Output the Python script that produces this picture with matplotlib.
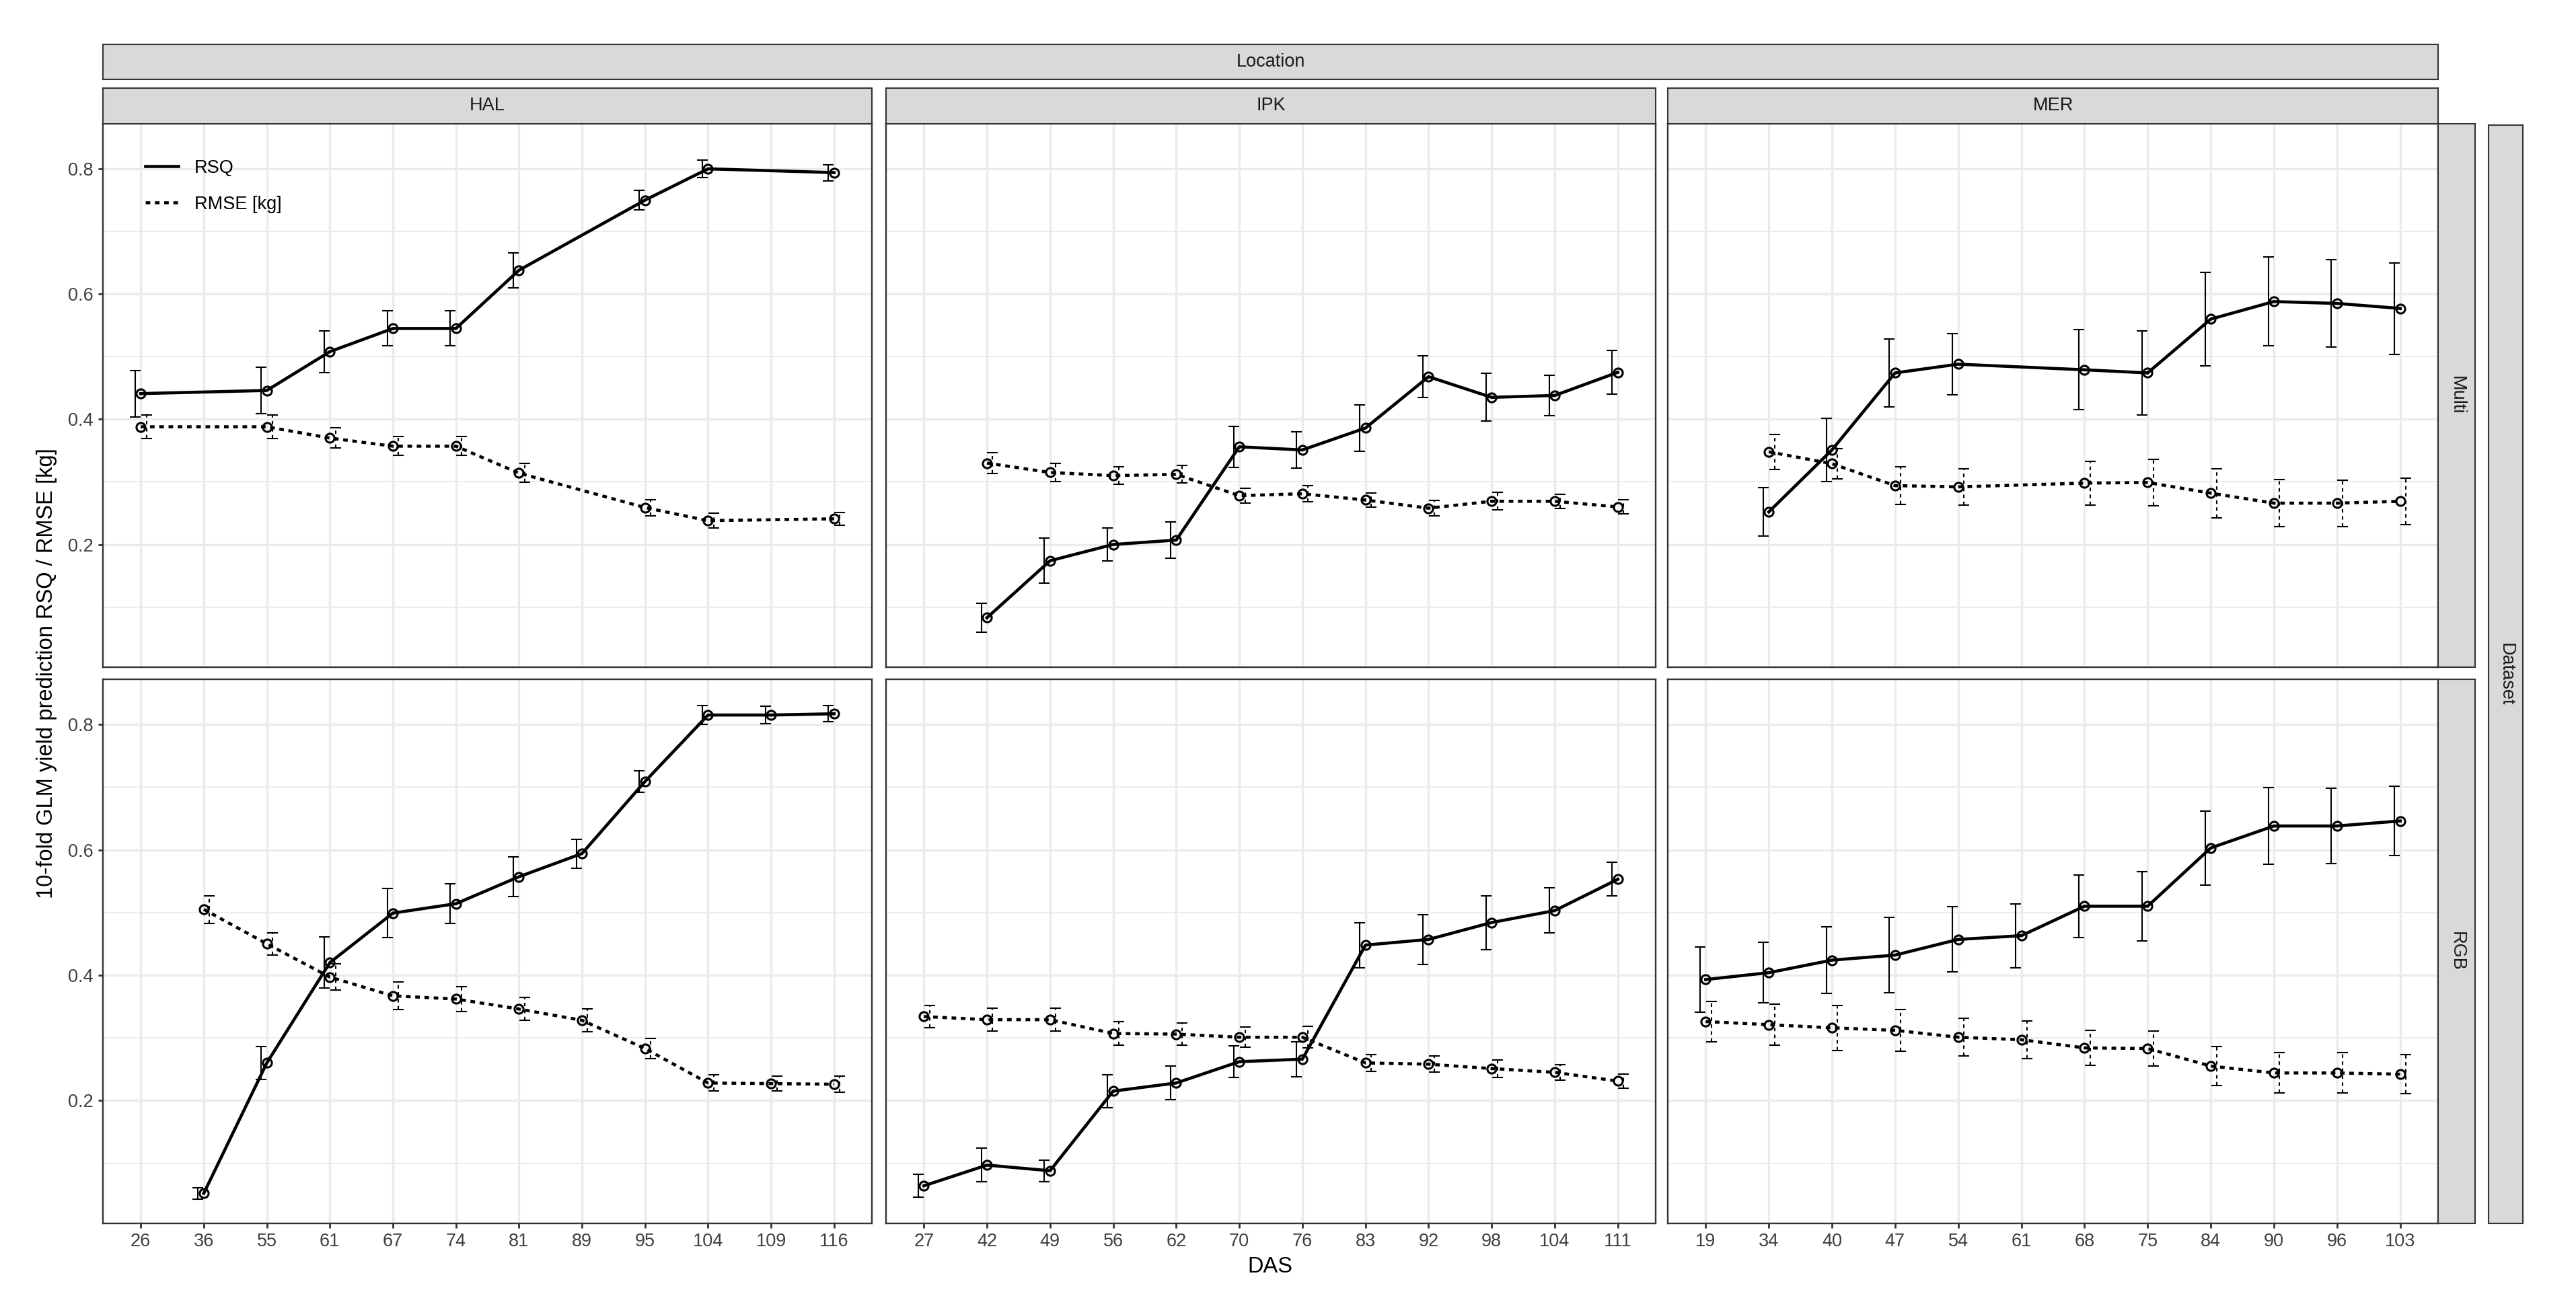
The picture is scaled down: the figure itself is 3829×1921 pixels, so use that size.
# facet grid of 10-fold GLM yield prediction: RSQ / RMSE per DAS, location and dataset

import numpy as np
import matplotlib.pyplot as plt
from matplotlib.lines import Line2D

plt.rcParams['font.family'] = ['Liberation Sans', 'DejaVu Sans']

nan = np.nan

# DAS categories per location (columns)
das_hal = [26, 36, 55, 61, 67, 74, 81, 89, 95, 104, 109, 116]
das_ipk = [27, 42, 49, 56, 62, 70, 76, 83, 92, 98, 104, 111]
das_mer = [19, 34, 40, 47, 54, 61, 68, 75, 84, 90, 96, 103]

# Multi dataset
hal_multi_rsq = [0.441, nan, 0.446, 0.508, 0.545, 0.545, 0.638, nan, 0.750, 0.800, nan, 0.794]
hal_multi_rsq_sd = [0.037, nan, 0.037, 0.033, 0.028, 0.028, 0.028, nan, 0.016, 0.014, nan, 0.013]
hal_multi_rmse = [0.388, nan, 0.388, 0.370, 0.357, 0.357, 0.314, nan, 0.259, 0.238, nan, 0.241]
hal_multi_rmse_sd = [0.019, nan, 0.019, 0.016, 0.015, 0.015, 0.015, nan, 0.013, 0.012, nan, 0.010]

ipk_multi_rsq = [nan, 0.083, 0.174, 0.200, 0.207, 0.356, 0.351, 0.386, 0.468, 0.435, 0.438, 0.475]
ipk_multi_rsq_sd = [nan, 0.023, 0.036, 0.026, 0.029, 0.033, 0.029, 0.037, 0.033, 0.038, 0.032, 0.035]
ipk_multi_rmse = [nan, 0.330, 0.315, 0.310, 0.312, 0.278, 0.281, 0.271, 0.258, 0.269, 0.269, 0.260]
ipk_multi_rmse_sd = [nan, 0.017, 0.015, 0.014, 0.014, 0.012, 0.013, 0.011, 0.012, 0.014, 0.011, 0.011]

mer_multi_rsq = [nan, 0.252, 0.351, 0.474, 0.488, nan, 0.479, 0.474, 0.560, 0.588, 0.585, 0.577]
mer_multi_rsq_sd = [nan, 0.039, 0.051, 0.054, 0.049, nan, 0.064, 0.067, 0.075, 0.071, 0.070, 0.073]
mer_multi_rmse = [nan, 0.348, 0.329, 0.294, 0.292, nan, 0.298, 0.299, 0.282, 0.266, 0.266, 0.269]
mer_multi_rmse_sd = [nan, 0.028, 0.024, 0.030, 0.029, nan, 0.035, 0.037, 0.039, 0.038, 0.037, 0.037]

# RGB dataset
hal_rgb_rsq = [nan, 0.052, 0.260, 0.420, 0.499, 0.514, 0.557, 0.594, 0.709, 0.815, 0.815, 0.817]
hal_rgb_rsq_sd = [nan, 0.009, 0.026, 0.041, 0.039, 0.032, 0.032, 0.023, 0.017, 0.015, 0.014, 0.013]
hal_rgb_rmse = [nan, 0.505, 0.450, 0.397, 0.367, 0.362, 0.346, 0.328, 0.283, 0.228, 0.227, 0.226]
hal_rgb_rmse_sd = [nan, 0.022, 0.018, 0.021, 0.022, 0.020, 0.018, 0.018, 0.016, 0.013, 0.012, 0.013]

ipk_rgb_rsq = [0.064, 0.097, 0.088, 0.215, 0.228, 0.262, 0.266, 0.448, 0.457, 0.484, 0.503, 0.553]
ipk_rgb_rsq_sd = [0.018, 0.027, 0.017, 0.026, 0.027, 0.025, 0.028, 0.036, 0.040, 0.043, 0.036, 0.027]
ipk_rgb_rmse = [0.334, 0.329, 0.329, 0.307, 0.306, 0.301, 0.301, 0.260, 0.258, 0.251, 0.245, 0.231]
ipk_rgb_rmse_sd = [0.018, 0.018, 0.018, 0.019, 0.018, 0.016, 0.017, 0.013, 0.013, 0.014, 0.012, 0.011]

mer_rgb_rsq = [0.393, 0.404, 0.424, 0.432, 0.457, 0.463, 0.510, 0.510, 0.603, 0.638, 0.638, 0.646]
mer_rgb_rsq_sd = [0.052, 0.048, 0.053, 0.060, 0.052, 0.051, 0.050, 0.055, 0.059, 0.061, 0.060, 0.055]
mer_rgb_rmse = [0.326, 0.321, 0.316, 0.312, 0.301, 0.297, 0.284, 0.283, 0.255, 0.244, 0.244, 0.242]
mer_rgb_rmse_sd = [0.032, 0.033, 0.036, 0.033, 0.030, 0.030, 0.028, 0.028, 0.031, 0.032, 0.032, 0.031]

locations = ["HAL", "IPK", "MER"]
datasets = ["Multi", "RGB"]

# figure in pixels
W, H = 3830, 1921
fig = plt.figure(figsize=(W / 100, H / 100), dpi=100)

GRID = "#EBEBEB"
BORDER = "#333333"
STRIP = "#D9D9D9"
TICK_FS = 19.5
TITLE_FS = 23.5


def px_axes(x0, y0, x1, y1):
    return fig.add_axes([x0 / W, 1 - y1 / H, (x1 - x0) / W, (y1 - y0) / H])


def strip(x0, y0, x1, y1, label, rot=0):
    a = px_axes(x0, y0, x1, y1)
    a.set_facecolor(STRIP)
    a.set_xticks([])
    a.set_yticks([])
    for s in a.spines.values():
        s.set_color(BORDER)
        s.set_linewidth(1.5)
    a.text(0.5, 0.5, label, transform=a.transAxes, ha="center", va="center",
           fontsize=TICK_FS, color="#1A1A1A", rotation=rot)
    return a


# panel geometry (pixels)
col_x = [(153, 1296), (1317, 2461), (2479, 3624)]
row_y = [(184, 992), (1010, 1819)]

das_cols = [das_hal, das_ipk, das_mer]
data = {
    ("HAL", "Multi"): (hal_multi_rsq, hal_multi_rsq_sd, hal_multi_rmse, hal_multi_rmse_sd),
    ("IPK", "Multi"): (ipk_multi_rsq, ipk_multi_rsq_sd, ipk_multi_rmse, ipk_multi_rmse_sd),
    ("MER", "Multi"): (mer_multi_rsq, mer_multi_rsq_sd, mer_multi_rmse, mer_multi_rmse_sd),
    ("HAL", "RGB"): (hal_rgb_rsq, hal_rgb_rsq_sd, hal_rgb_rmse, hal_rgb_rmse_sd),
    ("IPK", "RGB"): (ipk_rgb_rsq, ipk_rgb_rsq_sd, ipk_rgb_rmse, ipk_rgb_rmse_sd),
    ("MER", "RGB"): (mer_rgb_rsq, mer_rgb_rsq_sd, mer_rgb_rmse, mer_rgb_rmse_sd),
}

dash = (0, (1.5, 1.5))
dodge = 0.09

for r, ds in enumerate(datasets):
    for c, loc in enumerate(locations):
        x0, x1 = col_x[c]
        y0, y1 = row_y[r]
        ax = px_axes(x0, y0, x1, y1)
        cats = das_cols[c]
        n = len(cats)
        xpos = np.arange(n)
        rsq, rsq_sd, rmse, rmse_sd = [np.array(v, dtype=float) for v in data[(loc, ds)]]

        for vals, sd, ls, off in [(rsq, rsq_sd, "-", -dodge), (rmse, rmse_sd, dash, dodge)]:
            m = ~np.isnan(vals)
            eb = ax.errorbar(xpos[m] + off, vals[m], yerr=sd[m], fmt="none",
                             ecolor="black", elinewidth=1.5, capsize=6, capthick=1.5,
                             zorder=3)
            if ls != "-":
                eb[2][0].set_linestyle((0, (2.5, 2.5)))
            ax.plot(xpos[m], vals[m], color="black", lw=3.3, linestyle=ls, zorder=4)
            ax.plot(xpos[m], vals[m], linestyle="none", marker="o", ms=9.5,
                    mfc="none", mec="black", mew=2.2, zorder=5)

        ax.set_xlim(-0.6, n - 0.4)
        ax.set_ylim(0.004, 0.872)
        ax.set_xticks(xpos)
        ax.set_yticks([0.2, 0.4, 0.6, 0.8])
        ax.set_yticks([0.1, 0.3, 0.5, 0.7], minor=True)
        ax.grid(True, which="major", color=GRID, lw=2.4, zorder=0)
        ax.grid(True, which="minor", axis="y", color=GRID, lw=1.3, zorder=0)
        ax.set_axisbelow(True)
        ax.tick_params(which="minor", length=0)
        ax.tick_params(which="major", length=5, width=2, color=BORDER,
                       labelsize=TICK_FS, labelcolor="#404040", pad=5)
        for s in ax.spines.values():
            s.set_color(BORDER)
            s.set_linewidth(1.7)

        if r == 1:
            ax.set_xticklabels([str(d) for d in cats])
        else:
            ax.tick_params(axis="x", length=0, labelbottom=False)
        if c == 0:
            ax.set_yticklabels(["0.2", "0.4", "0.6", "0.8"])
        else:
            ax.tick_params(axis="y", length=0, labelleft=False)

        if r == 0 and c == 0:
            handles = [Line2D([], [], color="black", lw=3.3, linestyle="-"),
                       Line2D([], [], color="black", lw=3.3, linestyle=dash)]
            ax.legend(handles, ["RSQ", "RMSE [kg]"], loc="upper left",
                      bbox_to_anchor=(0.055, 0.935), frameon=False,
                      fontsize=TICK_FS, handlelength=1.8, handletextpad=0.9,
                      labelspacing=1.05, borderpad=0, borderaxespad=0)

# column strips
for c, loc in enumerate(locations):
    strip(col_x[c][0], 131, col_x[c][1], 184, loc)
strip(153, 66, 3624, 118, "Location")

# row strips
for r, ds in enumerate(datasets):
    strip(3624, row_y[r][0], 3679, row_y[r][1], ds, rot=-90)
strip(3699, 186, 3750, 1819, "Dataset", rot=-90)

# axis titles
fig.text(70 / W, 1 - 1001 / H, "10-fold GLM yield prediction RSQ / RMSE [kg]",
         rotation=90, ha="center", va="center", fontsize=TITLE_FS, color="black")
fig.text(1888 / W, 1 - 1884 / H, "DAS", ha="center", va="center",
         fontsize=TITLE_FS, color="black")

fig.savefig("out.png", dpi=100, facecolor="white")
